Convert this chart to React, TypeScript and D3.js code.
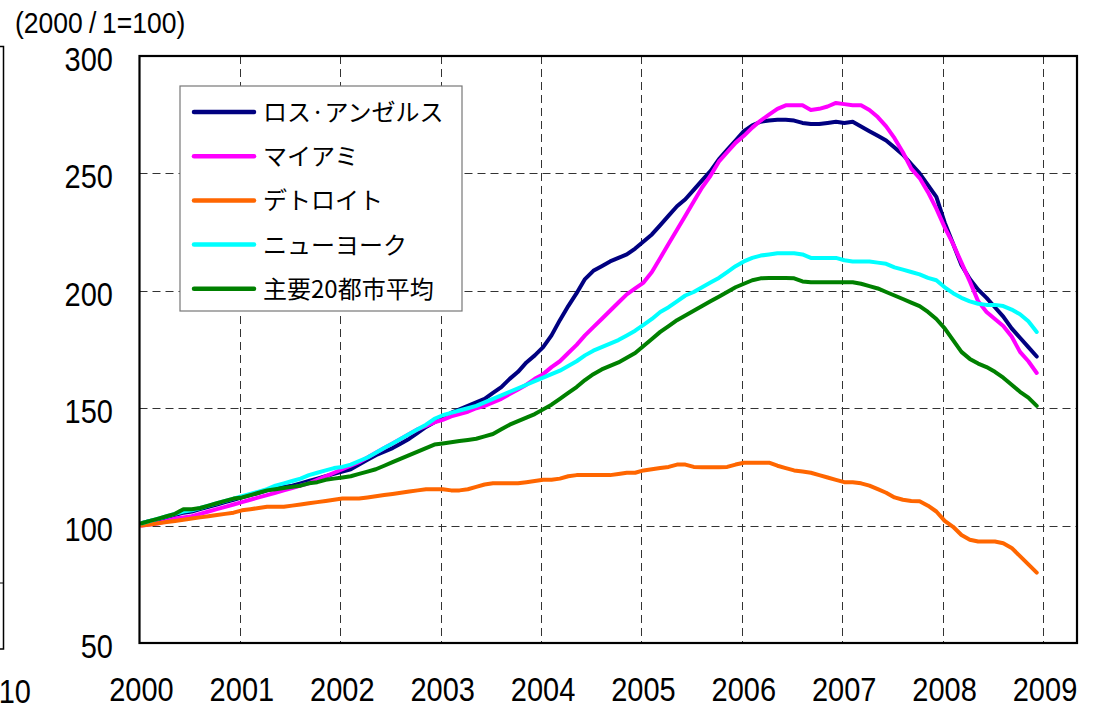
import React from "react";
import * as d3 from "d3";

const seriesNames = ["ロス·アンゼルス", "マイアミ", "デトロイト", "ニューヨーク", "主要20都市平均"];
const seriesColors = ["#000080", "#FF00FF", "#FF6600", "#00FFFF", "#008000"];

// Monthly index values, Jan 2000 .. Dec 2008
const losAngeles = [
  101, 102, 102.5, 103.5, 104.5, 105.5, 106, 107, 108, 109, 110, 111,
  112, 113, 114, 115, 116, 116.5, 117, 118, 119, 120, 121, 122,
  123, 124, 126, 128, 130, 131.5, 133, 135, 137, 139.5, 142, 144,
  146, 148, 149.5, 151, 152.5, 154, 156.5, 159, 162.5, 165.5, 169.5, 172.5,
  176, 181, 187.5, 193.5, 199, 205, 208.5, 210.5, 212.5, 214, 215.5, 218,
  221, 224, 228, 232, 236, 239, 243, 247, 251, 256, 260, 264,
  268, 270.5, 272, 272.5, 272.8, 272.8, 272.5, 271.5, 271, 271, 271.5, 272,
  271.5, 272, 270, 268, 266, 264, 261, 258, 254, 250, 245, 240,
  229, 220, 211, 205, 200.5, 197, 193, 189, 184, 180, 176, 172,
];
const miami = [
  100, 100.5, 101, 102, 103, 103.5, 104, 105, 106, 107, 108, 109,
  110, 111, 112, 113, 114, 115, 116, 117, 118, 119.5, 121, 122.5,
  124, 125.5, 127, 129, 131, 133, 135, 137, 139, 141, 142.5, 144,
  145, 146.5, 147.5, 148.5, 150, 151, 152.5, 154, 156, 158, 160, 162.5,
  164.5, 167.5, 170, 173.5, 177, 181, 184.5, 188, 191.5, 195, 198.5, 201,
  203.5, 208, 214, 220, 226, 232, 238, 244, 249, 255, 259, 263,
  266, 269.5, 272.5, 275, 277.5, 279, 279, 279, 277, 277.5, 278.5, 280,
  279.5, 279, 279, 277, 274, 270, 265, 259, 252, 248, 242, 235,
  227, 220, 212, 204, 195.5, 191, 188, 185, 180.5, 174, 170, 165,
];
const detroit = [
  100, 100.5, 101, 101.5, 102, 102.5, 103, 103.5, 104, 104.5, 105, 105.5,
  106.5, 107, 107.5, 108, 108, 108, 108.5, 109, 109.5, 110, 110.5, 111,
  111.5, 111.5, 111.5, 112, 112.5, 113, 113.5, 114, 114.5, 115, 115.5, 115.5,
  115.5, 115, 115, 115.5, 116.5, 117.5, 118, 118, 118, 118, 118.5, 119,
  119.5, 119.5, 120, 121, 121.5, 121.5, 121.5, 121.5, 121.5, 122, 122.5, 122.5,
  123.5, 124, 124.5, 125, 126, 126, 125, 124.8, 124.8, 124.8, 125, 126,
  126.8, 126.8, 126.8, 126.8, 125.5, 124.5, 123.5, 123, 122.5, 121.5, 120.5, 119.5,
  118.5, 118.5, 118, 117, 115.5, 114, 112, 111, 110.5, 110.4, 108.5, 106,
  102, 99.5, 96, 94, 93.2, 93.2, 93.2, 92.5, 90.5, 87, 83.5, 80,
];
const newYork = [
  101, 102, 103, 104, 105, 106, 106.5, 107.5, 108.5, 109.5, 110.5, 111.5,
  112.5, 113.5, 114.5, 115.5, 117, 118, 119, 120, 121.5, 122.5, 123.5, 124.5,
  125, 126, 127.5, 129, 131, 133, 135, 137, 139, 141, 143, 145.5,
  147, 148, 149, 150, 151, 152.5, 154, 155.5, 157, 158.5, 160, 161.5,
  163, 164.5, 166, 168, 170, 172.5, 174.5, 176, 177.5, 179, 181, 183,
  185.5, 188, 191, 193, 195.5, 198, 199.5, 201.5, 203.5, 205.5, 208, 210.5,
  212.5, 214, 215, 215.5, 216, 216, 216, 215.5, 214, 214, 214, 214,
  213, 212.5, 212.5, 212.5, 212, 211.5, 210, 209, 208, 207, 205.5, 204.5,
  201.5, 199, 197, 195.5, 194.5, 194, 194, 193.5, 192, 190, 187, 182.5,
];
const composite20 = [
  101, 102, 103, 104, 105, 107, 107, 107.5, 108.5, 109.5, 110.5, 111.5,
  112, 113, 114, 115, 115.5, 116, 116.5, 117, 118, 118.5, 119.5, 120,
  120.5, 121, 122, 123, 124, 125.5, 127, 128.5, 130, 131.5, 133, 134.5,
  135, 135.5, 136, 136.5, 137, 138, 139, 141, 143, 144.5, 146, 147.5,
  149.5, 151.5, 154, 156.5, 159, 162, 164.5, 166.5, 168, 169.5, 171.5, 173.5,
  176.5, 179.5, 182.5, 185, 187.5, 189.5, 191.5, 193.5, 195.5, 197.5, 199.5, 201.5,
  203, 204.5, 205.3, 205.5, 205.5, 205.5, 205.3, 204, 203.6, 203.6, 203.6, 203.6,
  203.6, 203.6, 203, 202, 201, 199.5, 198, 196.5, 195, 193.5, 191, 188,
  184, 179, 174, 171, 169, 167.5, 165.5, 163, 160, 157, 154.5, 151,
];
const seriesValues = [losAngeles, miami, detroit, newYork, composite20];

const yTicks = [50, 100, 150, 200, 250, 300];
const xTickYears = [2000, 2001, 2002, 2003, 2004, 2005, 2006, 2007, 2008, 2009];

const W = 1099;
const H = 709;
const L = 139.5, R = 1077, T = 56, B = 643;

const FONT = "'Liberation Sans', Arial, 'Noto Sans CJK JP', sans-serif";
const JFONT = "'Noto Sans CJK JP', 'Liberation Sans', sans-serif";

export default function App() {
  const x = d3.scaleLinear().domain([2000, 2000 + (R - L) / 100.39]).range([L, R]);
  const y = d3.scaleLinear().domain([50, 300]).range([B, T]);
  const line = d3
    .line<number>()
    .x((_, i) => x(2000 + (i + 0.25) / 12))
    .y((v) => y(v));

  const legendX = 180, legendY = 86, legendW = 282, legendH = 225;
  const rowY = (i: number) => 112 + i * 44.2;

  return (
    <svg width={W} height={H} style={{ position: "absolute", left: 0, top: 0, background: "#fff" }}>
      <rect x={0} y={0} width={W} height={H} fill="#fff" />
      {/* partial neighbouring chart at left edge */}
      <path d="M0,46.5 H3.5 V649 H0" fill="none" stroke="#000" strokeWidth={1.5} />
      <line x1={0} x2={3.5} y1={583} y2={583} stroke="#000" strokeWidth={1} />
      <text x={31} y={703} textAnchor="end" fontFamily={FONT} fontSize={29} transform="translate(31,703) scale(1,1.15) translate(-31,-703)">10</text>

      <text y={33} fontFamily={FONT} fontSize={26.5} transform="translate(0,33) scale(1,1.08) translate(0,-33)">
        <tspan x={15}>(2000</tspan>
        <tspan x={89}>/</tspan>
        <tspan x={102}>1=100)</tspan>
      </text>

      {/* gridlines */}
      {yTicks.filter((t) => t > 50 && t < 300).map((t) => (
        <line key={"h" + t} x1={L} x2={R} y1={Math.round(y(t)) + 0.5} y2={Math.round(y(t)) + 0.5}
          stroke="#333" strokeWidth={1} strokeDasharray="8,5" />
      ))}
      {xTickYears.filter((t) => t > 2000).map((t) => (
        <line key={"v" + t} x1={Math.round(x(t)) + 0.5} x2={Math.round(x(t)) + 0.5} y1={T} y2={B}
          stroke="#333" strokeWidth={1} strokeDasharray="8,5" />
      ))}

      {/* series */}
      {seriesValues.map((vals, i) => (
        <path key={seriesNames[i]} d={line(vals) || ""} fill="none" stroke={seriesColors[i]}
          strokeWidth={4} strokeLinejoin="round" strokeLinecap="round" />
      ))}

      {/* frame */}
      <rect x={L} y={T} width={R - L} height={B - T} fill="none" stroke="#000" strokeWidth={2.2} />

      {/* y tick labels */}
      {yTicks.map((t) => {
        const ty = y(t) + 15;
        return (
          <text key={"yl" + t} x={113} y={ty} textAnchor="end" fontFamily={FONT} fontSize={29}
            transform={`translate(113,${ty}) scale(1,1.15) translate(-113,${-ty})`}>{t}</text>
        );
      })}
      {/* x tick labels */}
      {xTickYears.map((t) => {
        const tx = x(t) + 2;
        return (
          <text key={"xl" + t} x={tx} y={701} textAnchor="middle" fontFamily={FONT} fontSize={29}
            transform={`translate(${tx},701) scale(1,1.15) translate(${-tx},-701)`}>{t}</text>
        );
      })}

      {/* legend */}
      <rect x={legendX} y={legendY} width={legendW} height={legendH} fill="#fff" stroke="#777" strokeWidth={1.2} />
      {seriesNames.map((name, i) => (
        <g key={"lg" + i}>
          <line x1={194} x2={254} y1={rowY(i)} y2={rowY(i)} stroke={seriesColors[i]} strokeWidth={4.5} strokeLinecap="round" />
          <text x={263} y={rowY(i) + 9} fontFamily={JFONT} fontSize={24}>{name}</text>
        </g>
      ))}
    </svg>
  );
}
